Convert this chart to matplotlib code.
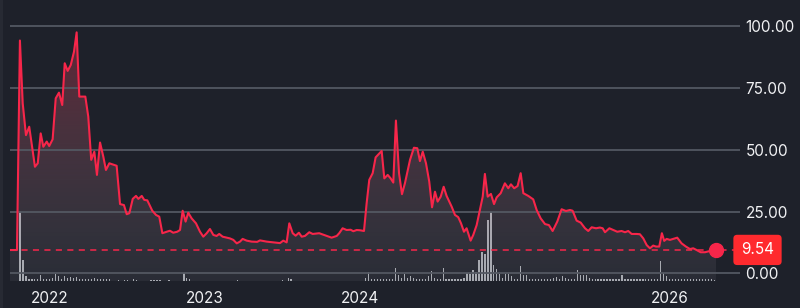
import numpy as np
import matplotlib
matplotlib.use("Agg")
import matplotlib.pyplot as plt
from matplotlib.patches import Polygon, Rectangle

# price series (time in decimal years)
t = [2021.742, 2021.787, 2021.806, 2021.824, 2021.845, 2021.866, 2021.903, 2021.921, 2021.940, 2021.957,
     2021.979, 2021.995, 2022.017, 2022.037, 2022.058, 2022.079, 2022.095, 2022.114, 2022.134, 2022.155,
     2022.172, 2022.189, 2022.228, 2022.247, 2022.266, 2022.286, 2022.303, 2022.323, 2022.344, 2022.361,
     2022.383, 2022.430, 2022.452, 2022.477, 2022.495, 2022.512, 2022.534, 2022.555, 2022.570, 2022.592,
     2022.608, 2022.628, 2022.660, 2022.684, 2022.705, 2022.725, 2022.753, 2022.774, 2022.795, 2022.821,
     2022.839, 2022.856, 2022.875, 2022.892, 2022.914, 2022.942, 2022.968, 2022.989, 2023.011, 2023.032,
     2023.054, 2023.075, 2023.092, 2023.114, 2023.161, 2023.183, 2023.205, 2023.226, 2023.243, 2023.269,
     2023.301, 2023.337, 2023.355, 2023.398, 2023.441, 2023.484, 2023.505, 2023.527, 2023.544, 2023.566,
     2023.585, 2023.606, 2023.624, 2023.645, 2023.673, 2023.695, 2023.737, 2023.785, 2023.817, 2023.850,
     2023.866, 2023.888, 2023.914, 2023.940, 2023.957, 2023.979, 2024.000, 2024.026, 2024.043, 2024.060,
     2024.082, 2024.101, 2024.140, 2024.157, 2024.179, 2024.198, 2024.215, 2024.232, 2024.252, 2024.271,
     2024.290, 2024.323, 2024.348, 2024.370, 2024.387, 2024.405, 2024.426, 2024.447, 2024.465, 2024.484,
     2024.501, 2024.521, 2024.540, 2024.559, 2024.592, 2024.613, 2024.634, 2024.652, 2024.671, 2024.688,
     2024.714, 2024.731, 2024.753, 2024.774, 2024.792, 2024.806, 2024.824, 2024.845, 2024.865, 2024.882,
     2024.908, 2024.935, 2024.957, 2024.974, 2024.995, 2025.017, 2025.037, 2025.054, 2025.086, 2025.118,
     2025.140, 2025.166, 2025.194, 2025.219, 2025.243, 2025.273, 2025.301, 2025.329, 2025.355, 2025.372,
     2025.398, 2025.424, 2025.452, 2025.473, 2025.495, 2025.523, 2025.548, 2025.566, 2025.581, 2025.609,
     2025.634, 2025.660, 2025.688, 2025.710, 2025.731, 2025.753, 2025.785, 2025.806, 2025.828, 2025.850,
     2025.871, 2025.892, 2025.910, 2025.931, 2025.948, 2025.963, 2025.979, 2026.000, 2026.021, 2026.047,
     2026.075, 2026.103, 2026.129, 2026.150, 2026.172, 2026.198, 2026.226, 2026.258, 2026.297]
price = [9.5, 9.5, 94.3, 68.9, 56.0, 59.4, 43.2, 44.6, 56.7, 51.3,
         53.4, 51.6, 54.3, 70.9, 73.2, 68.2, 85.1, 82.0, 84.4, 89.8,
         97.6, 71.6, 71.6, 63.5, 46.0, 49.3, 39.9, 53.0, 47.3, 41.9,
         44.6, 43.6, 28.1, 27.7, 24.0, 24.4, 30.2, 31.4, 30.2, 31.4,
         29.8, 29.6, 25.4, 23.7, 23.0, 16.3, 16.9, 17.3, 16.5, 16.9,
         17.6, 25.4, 21.0, 24.6, 22.3, 20.3, 16.9, 14.9, 16.3, 18.0,
         15.6, 15.2, 16.0, 14.9, 14.2, 13.6, 12.2, 12.9, 14.0, 13.3,
         12.9, 12.8, 13.4, 12.9, 12.6, 12.3, 13.3, 12.6, 20.3, 16.3,
         15.3, 16.5, 14.9, 15.2, 16.7, 16.0, 16.3, 15.2, 14.5, 15.2,
         16.3, 18.3, 17.6, 17.7, 17.1, 17.6, 17.5, 17.2, 28.4, 37.9,
         40.6, 47.0, 49.6, 38.5, 39.9, 38.5, 36.8, 61.9, 40.6, 32.1,
         36.5, 46.0, 50.9, 50.7, 45.5, 49.3, 44.6, 37.2, 26.8, 33.1,
         29.1, 31.1, 35.1, 31.4, 27.0, 23.7, 22.8, 20.3, 16.9, 18.3,
         13.3, 15.6, 19.6, 25.7, 31.1, 40.3, 31.1, 32.2, 28.1, 30.8,
         32.5, 36.5, 34.5, 36.1, 34.5, 35.4, 40.6, 32.5, 31.4, 30.0,
         25.7, 22.3, 20.0, 19.6, 17.2, 21.0, 26.0, 25.3, 25.7, 25.4,
         21.4, 20.6, 18.3, 17.2, 18.7, 18.3, 18.6, 18.3, 16.7, 18.3,
         17.6, 16.9, 17.2, 16.7, 17.2, 16.0, 16.0, 15.9, 14.2, 11.5,
         10.2, 11.3, 10.9, 10.9, 16.3, 13.2, 14.0, 13.6, 14.0, 14.5,
         12.2, 10.9, 9.9, 10.2, 9.5, 8.6, 8.6, 9.1, 9.54]

# weekly volume, first bar at the listing spike
vol_start = 2021.806
vol = [69, 21, 4.7, 2.3, 2, 2, 2, 5.7, 2, 2,
       2, 3.3, 6.7, 4.7, 2, 4.7, 3.3, 4, 3.3, 4,
       2, 2, 1.7, 2, 1.7, 3.3, 1.5, 1.5, 1.5, 1.5,
       1.5, 0, 0, 0.7, 0, 1.3, 1.3, 0, 2, 1.3,
       0, 0, 0, 0, 0.7, 0.7, 0.7, 0.7, 0, 0,
       0.7, 0, 0, 0, 0, 8, 3.3, 2, 0, 0,
       0, 0, 0, 0, 0, 0, 0, 0, 0, 0,
       0, 0, 0, 0.7, 0, 0, 0, 0, 0, 0,
       0, 0, 0, 0, 0, 0, 0, 0, 0.7, 0,
       3, 1.7, 0, 0, 0, 0, 0, 0, 0, 0,
       0, 0, 0, 0, 0, 0, 0, 0, 0, 0,
       0, 0, 0, 0, 0, 0, 3.3, 9, 1.5, 1.5,
       1.5, 1.5, 1.5, 1.5, 1.5, 2.3, 13.3, 5.7, 3.3, 6.7,
       3.3, 4.7, 3.3, 2, 2, 2, 2, 4.7, 10, 3,
       2, 2, 13, 2.3, 2.3, 2.3, 2.3, 2.3, 2.3, 3,
       8, 7.3, 11.3, 9, 20.7, 29, 27, 60.7, 69, 15.7,
       12.3, 6.7, 2.7, 7.3, 6.7, 4.7, 1.7, 1.7, 14.7, 5.7,
       5.7, 1.7, 1.7, 1.7, 1.7, 1.7, 1.7, 1.7, 1.7, 3.3,
       4, 1.7, 4.7, 3, 2, 1.7, 1.7, 11.3, 5.7, 5.7,
       5.7, 3.3, 2.3, 2.3, 2.3, 2.3, 2.3, 2.3, 2.3, 2.3,
       2.3, 2.3, 5.7, 2.3, 2.3, 2.3, 2.3, 2.3, 2.3, 2.3,
       2.3, 2.3, 2.3, 2.3, 2.3, 19.7, 8, 4.7, 2, 2,
       2, 1.7, 2, 1.7, 2, 1.7, 2, 1.7, 2, 1.7,
       1.7, 1.7, 2, 1.3]

year_ticks = [2022, 2023, 2024, 2026]
year_labels = ["2022", "2023", "2024", "2026"]
price_ticks = [0, 25, 50, 75, 100]
last_price = 9.54

bg = "#1e212a"
red = "#f7264a"
txt = "#f0f1f3"
plt.rcParams["font.family"] = ["Inter", "DejaVu Sans"]

fig = plt.figure(figsize=(8, 3.08), dpi=100, facecolor=bg)
ax = fig.add_axes([10 / 800, 27 / 308, 730 / 800, 281 / 308])
ax2 = ax.twinx()
ax.set_zorder(2)
ax2.set_zorder(1)
ax.patch.set_visible(False)
ax2.patch.set_visible(False)
fig.patches.append(Rectangle((0, 0), 3 / 800, 1, transform=fig.transFigure,
                             facecolor="#272a33", edgecolor="none"))

x0, x1 = 2021.742, 2026.452
ylo, yhi = -3.04, 110.7
ax.set_xlim(x0, x1)
ax.set_ylim(ylo, yhi)

# volume bars
vt = vol_start + np.arange(len(vol)) / 52.0
ax2.bar(vt, vol, width=0.0085, color="#c8cbd2", alpha=0.8, linewidth=0)
ax2.set_ylim(0, max(vol) / 0.2456)
ax2.set_yticks([])
for s in ax2.spines.values():
    s.set_visible(False)

# gradient fill under the line
n = 256
top = np.array([0.97, 0.17, 0.30, 0.32])
bot = np.array([0.80, 0.80, 0.85, 0.07])
f = np.linspace(0, 1, n)[:, None]
rgba = (top * (1 - f) + bot * f).reshape(n, 1, 4)
im = ax.imshow(rgba, extent=[x0, x1, ylo, 100], aspect="auto", origin="upper", zorder=1)
verts = [(t[0], ylo)] + list(zip(t, price)) + [(t[-1], ylo)]
poly = Polygon(verts, closed=True, facecolor="none", edgecolor="none")
ax.add_patch(poly)
im.set_clip_path(poly)
ax.set_xlim(x0, x1)
ax.set_ylim(ylo, yhi)

ax.plot(t, price, color=red, lw=1.5, zorder=3)
ax.axhline(last_price, color=red, lw=1.1, ls=(0, (4, 3.5)), zorder=3)
ax.plot([t[-1]], [price[-1]], "o", color=red, markersize=10, zorder=4)
ax.text(1 + 17.5 / 730, last_price, "9.54", transform=ax.get_yaxis_transform(),
        ha="center", va="center", color="white", fontsize=11, zorder=5, clip_on=False,
        bbox=dict(boxstyle="round,pad=0.5,rounding_size=0.25", facecolor="#ff2a2e", edgecolor="none"))

ax.yaxis.tick_right()
ax.set_yticks(price_ticks)
ax.set_yticklabels([f"{v:.2f}" for v in price_ticks])
ax.set_xticks(year_ticks)
ax.set_xticklabels(year_labels)
ax.tick_params(axis="y", length=0, pad=4, labelsize=11, labelcolor=txt)
ax.tick_params(axis="x", length=0, pad=7, labelsize=11, labelcolor=txt)
for lab in ax.get_yticklabels():
    lab.set_horizontalalignment("left")
ax.grid(axis="y", color="#535862", lw=1.3)
ax.grid(axis="x", visible=False)
for s in ax.spines.values():
    s.set_visible(False)

fig.savefig("out.png", dpi=100, facecolor=bg)
